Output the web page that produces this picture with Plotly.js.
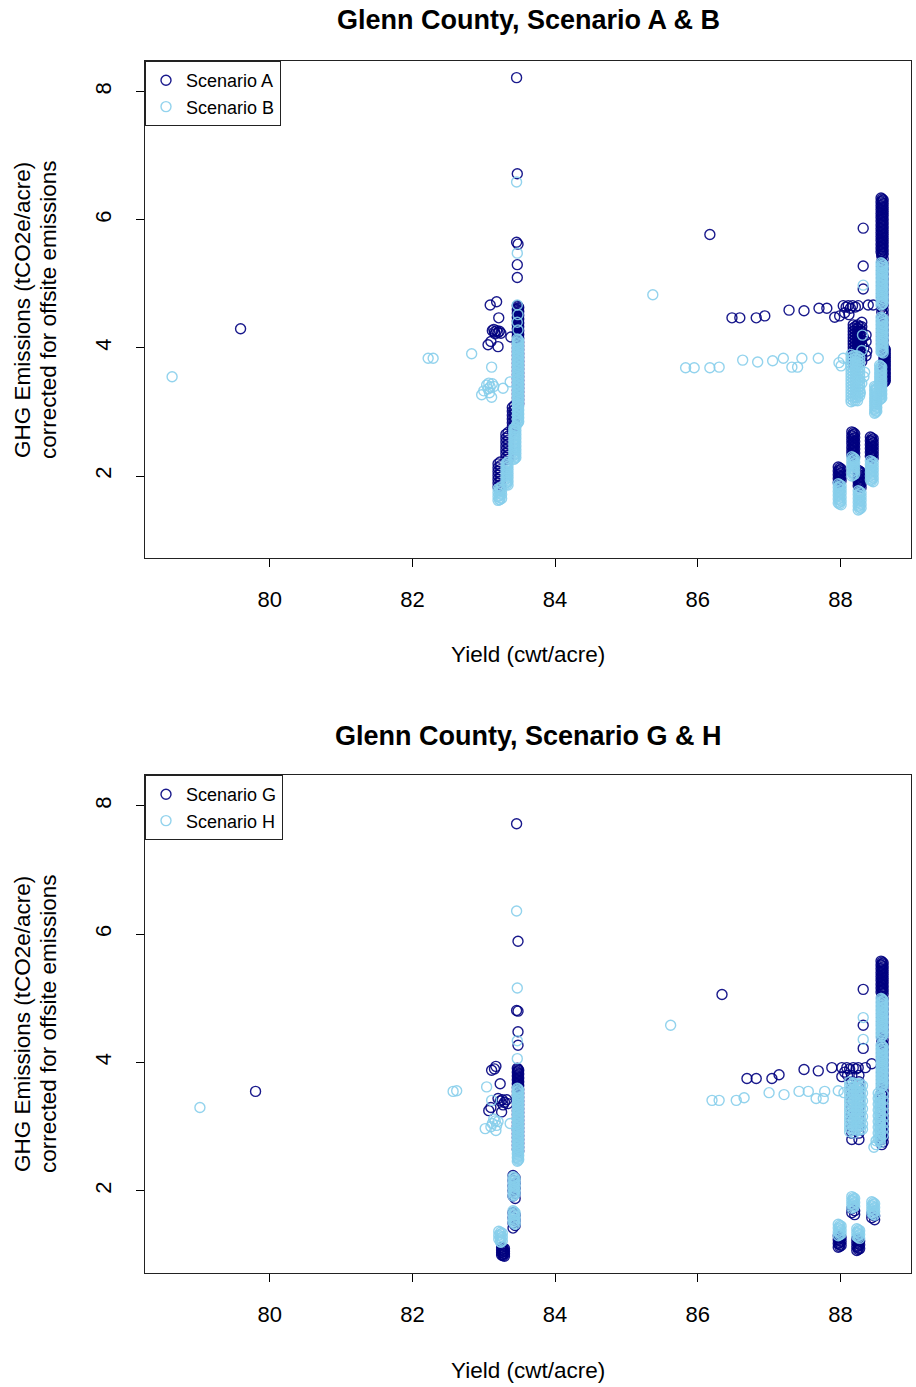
<!DOCTYPE html>
<html>
<head>
<meta charset="utf-8">
<script src="https://cdn.plot.ly/plotly-3.0.1.min.js"></script>
<style>html,body{margin:0;padding:0;background:#fff}#chart{width:916px;height:1387px}</style>
</head>
<body>
<div id="chart"></div>
<script>
// ---------- DATA ----------
const xTicks = [80, 82, 84, 86, 88];
const yTicks = [2, 4, 6, 8];
const titleTop = "Glenn County, Scenario A & B";
const titleBottom = "Glenn County, Scenario G & H";
const xLabel = "Yield (cwt/acre)";
const yLabel1 = "GHG Emissions (tCO2e/acre)";
const yLabel2 = "corrected for offsite emissions";

// Scenario A : [yield, emissions]
const scenarioA = [
 [79.59,4.30],[86.17,5.77],
 [83.46,8.22],[83.47,6.72],[83.46,5.65],[83.48,5.62],[83.47,5.30],[83.47,5.10],
 [83.09,4.67],[83.18,4.72],[83.21,4.47],[83.12,4.27],[83.15,4.25],[83.18,4.27],[83.20,4.24],[83.22,4.26],[83.16,4.22],[83.24,4.23],[83.14,4.29],[83.06,4.05],[83.20,4.02],[83.38,4.17],[83.10,4.10],
 [83.47,4.66],[83.49,4.63],[83.47,4.60],[83.49,4.57],[83.47,4.54],[83.49,4.51],[83.47,4.48],[83.49,4.45],[83.47,4.42],[83.49,4.39],[83.47,4.36],[83.49,4.33],[83.47,4.30],[83.49,4.27],[83.47,4.24],[83.49,4.21],[83.47,4.18],[83.49,4.15],[83.47,4.12],[83.49,4.09],[83.47,4.06],[83.49,4.03],[83.47,4.00],[83.49,3.97],[83.47,3.94],[83.49,3.91],[83.47,3.88],[83.49,3.85],[83.47,3.82],[83.49,3.79],[83.47,3.76],[83.49,3.73],[83.47,3.70],[83.49,3.67],[83.47,3.64],[83.49,3.61],[83.47,3.58],[83.49,3.55],[83.47,3.52],[83.49,3.49],[83.47,3.46],[83.49,3.43],[83.47,3.40],[83.49,3.37],[83.47,3.34],[83.49,3.31],[83.47,3.28],[83.49,3.25],[83.47,3.22],[83.49,3.19],[83.47,3.16],[83.49,3.13],
 [83.43,3.10],[83.40,3.07],[83.43,3.04],[83.40,3.01],[83.43,2.98],[83.40,2.95],[83.43,2.92],[83.40,2.89],[83.43,2.86],[83.40,2.83],[83.43,2.80],[83.40,2.77],[83.43,2.74],[83.40,2.71],
 [83.34,2.68],[83.31,2.65],[83.34,2.62],[83.31,2.59],[83.34,2.56],[83.31,2.53],[83.34,2.50],[83.31,2.47],[83.34,2.44],[83.31,2.41],[83.34,2.38],[83.31,2.35],[83.34,2.32],[83.31,2.29],[83.34,2.26],
 [83.23,2.22],[83.20,2.19],[83.23,2.16],[83.20,2.13],[83.23,2.10],[83.20,2.07],[83.23,2.04],[83.20,2.01],[83.23,1.98],[83.20,1.95],[83.23,1.92],[83.20,1.89],[83.23,1.86],[83.20,1.83],
 [86.48,4.47],[86.59,4.47],[86.82,4.47],[86.94,4.50],[87.28,4.59],[87.49,4.58],[87.70,4.62],[87.81,4.62],[87.92,4.48],[87.99,4.50],[88.04,4.66],[88.08,4.64],[88.11,4.66],[88.14,4.62],[88.17,4.66],[88.21,4.64],[88.25,4.66],[88.39,4.67],[88.46,4.67],[88.06,4.55],[88.12,4.52],
 [88.32,5.87],[88.32,5.28],[88.32,4.92],[88.32,4.17],[88.33,4.00],[88.30,4.40],
 [88.57,6.34],[88.60,6.31],[88.57,6.28],[88.60,6.25],[88.57,6.22],[88.60,6.19],[88.57,6.16],[88.60,6.13],[88.57,6.10],[88.60,6.07],[88.57,6.04],[88.60,6.01],[88.57,5.98],[88.60,5.95],[88.57,5.92],[88.60,5.89],[88.57,5.86],[88.60,5.83],[88.57,5.80],[88.60,5.77],[88.57,5.74],[88.60,5.71],[88.57,5.68],[88.60,5.65],[88.57,5.62],[88.60,5.59],[88.57,5.56],[88.60,5.53],[88.57,5.50],[88.60,5.47],
 [88.58,5.43],[88.60,5.39],[88.58,5.35],[88.60,5.31],[88.58,5.27],[88.60,5.23],[88.58,5.19],[88.60,5.15],[88.58,5.11],[88.60,5.07],[88.58,5.03],[88.60,4.99],[88.58,4.95],[88.60,4.91],[88.58,4.87],[88.60,4.83],[88.58,4.79],[88.60,4.75],[88.58,4.71],[88.60,4.67],[88.58,4.63],[88.60,4.59],[88.58,4.56],[88.60,4.52],[88.58,4.48],[88.60,4.44],[88.58,4.40],[88.60,4.36],[88.58,4.32],[88.60,4.28],[88.58,4.24],[88.60,4.20],[88.58,4.16],[88.60,4.12],[88.58,4.08],[88.60,4.04],
 [88.61,4.00],[88.63,3.97],[88.61,3.94],[88.63,3.91],[88.61,3.88],[88.63,3.85],[88.61,3.82],[88.63,3.79],[88.61,3.76],[88.63,3.73],[88.61,3.70],[88.63,3.67],[88.61,3.64],[88.63,3.61],[88.61,3.58],[88.63,3.55],[88.61,3.52],[88.63,3.49],[88.61,3.46],
 [88.18,4.36],[88.18,4.31],[88.18,4.26],[88.18,4.21],[88.18,4.16],[88.18,4.11],[88.18,4.06],[88.18,4.01],[88.18,3.96],[88.18,3.91],[88.18,3.86],[88.18,3.81],[88.18,3.76],
 [88.24,4.36],[88.24,4.31],[88.24,4.26],[88.24,4.21],[88.24,4.16],[88.24,4.11],[88.24,4.06],[88.24,4.01],[88.24,3.96],[88.24,3.91],[88.24,3.86],[88.24,3.81],[88.24,3.76],
 [88.30,4.33],[88.30,4.26],[88.30,4.13],[88.30,4.06],[88.30,3.93],[88.30,3.86],[88.30,3.79],
 [88.36,4.20],[88.36,4.10],[88.37,3.95],[88.36,3.88],
 [88.16,2.69],[88.20,2.66],[88.16,2.63],[88.20,2.60],[88.16,2.57],[88.20,2.54],[88.16,2.51],[88.20,2.48],[88.16,2.45],[88.20,2.42],[88.16,2.39],[88.20,2.36],[88.16,2.33],[88.20,2.30],
 [88.42,2.61],[88.46,2.58],[88.42,2.55],[88.46,2.52],[88.42,2.49],[88.46,2.46],[88.42,2.43],[88.46,2.40],[88.42,2.37],[88.46,2.34],[88.42,2.31],[88.46,2.28],
 [87.97,2.14],[88.01,2.11],[87.97,2.08],[88.01,2.05],[87.97,2.02],[88.01,1.99],[87.97,1.96],[88.01,1.93],[87.97,1.90],
 [88.25,2.09],[88.29,2.06],[88.25,2.03],[88.29,2.00],[88.25,1.97],[88.29,1.94],[88.25,1.91],[88.29,1.88],[88.25,1.85],[88.29,1.82]
];
// Scenario A, extra points inside the densest clusters: [yield, [emissions...]]
const scenarioADense = [
 [83.48,[4.645,4.615,4.585,4.555,4.525,4.495,4.465,4.435,4.405,4.375,4.345,4.315,4.285,4.255,4.225,4.195,4.165,4.135]],
 [88.585,[6.325,6.295,6.265,6.235,6.205,6.175,6.145,6.115,6.085,6.055,6.025,5.995,5.965,5.935,5.905,5.875,5.845,5.815,5.785,5.755,5.725,5.695,5.665,5.635,5.605,5.575,5.545,5.515,5.485,5.455]],
 [88.62,[3.985,3.955,3.925,3.895,3.865,3.835,3.805,3.775,3.745,3.715,3.685,3.655,3.625,3.595,3.565,3.535,3.505,3.475]],
 [88.21,[4.335,4.285,4.235,4.185,4.135,4.085,4.035,3.985,3.935,3.885,3.835,3.785]],
 [88.27,[4.335,4.285,4.235,4.185,4.135,4.085,4.035,3.985,3.935,3.885,3.835,3.785]],
 [88.18,[2.675,2.645,2.615,2.585,2.555,2.525,2.495,2.465,2.435,2.405,2.375,2.345,2.315]],
 [88.44,[2.595,2.565,2.535,2.505,2.475,2.445,2.415,2.385,2.355,2.325,2.295]],
 [87.99,[2.125,2.095,2.065,2.035,2.005,1.975,1.945,1.915]],
 [88.27,[2.075,2.045,2.015,1.985,1.955,1.925,1.895,1.865,1.835]]
];

// Scenario B
const scenarioB = [
 [78.63,3.55],[82.22,3.84],[82.29,3.84],[82.83,3.91],[83.11,3.70],[85.37,4.83],
 [83.46,6.59],[83.47,5.48],[83.47,4.67],[83.48,4.52],[83.47,4.40],[83.48,4.28],
 [83.09,3.39],[82.97,3.27],[83.11,3.23],[83.27,3.37],[83.37,3.47],[83.04,3.42],[83.06,3.36],[83.12,3.44],[83.08,3.30],[83.00,3.33],[83.14,3.40],[83.07,3.45],
 [83.47,4.14],[83.49,4.11],[83.47,4.08],[83.49,4.05],[83.47,4.02],[83.49,3.99],[83.47,3.96],[83.49,3.93],[83.47,3.90],[83.49,3.87],[83.47,3.84],[83.49,3.81],[83.47,3.78],[83.49,3.75],[83.47,3.72],[83.49,3.69],[83.47,3.66],[83.49,3.63],[83.47,3.60],[83.49,3.57],[83.47,3.54],[83.49,3.51],[83.47,3.48],[83.49,3.45],[83.47,3.42],[83.49,3.39],[83.47,3.36],[83.49,3.33],[83.47,3.30],[83.49,3.27],[83.47,3.24],[83.49,3.21],[83.47,3.18],[83.49,3.15],[83.47,3.12],[83.49,3.09],[83.47,3.06],[83.49,3.03],[83.47,3.00],[83.49,2.97],[83.47,2.94],[83.49,2.91],[83.47,2.88],[83.49,2.85],[83.47,2.82],
 [83.45,2.77],[83.42,2.74],[83.45,2.71],[83.42,2.68],[83.45,2.65],[83.42,2.62],[83.45,2.59],[83.42,2.56],[83.45,2.53],[83.42,2.50],[83.45,2.47],[83.42,2.44],[83.45,2.41],[83.42,2.38],[83.45,2.35],[83.42,2.32],[83.45,2.29],[83.42,2.26],
 [83.34,2.22],[83.31,2.19],[83.34,2.16],[83.31,2.13],[83.34,2.10],[83.31,2.07],[83.34,2.04],[83.31,2.01],[83.34,1.98],[83.31,1.95],[83.34,1.92],[83.31,1.89],[83.34,1.86],
 [83.25,1.83],[83.20,1.80],[83.25,1.77],[83.20,1.74],[83.25,1.71],[83.20,1.68],[83.25,1.65],[83.20,1.62],[83.22,1.63],
 [85.83,3.69],[85.95,3.69],[86.17,3.69],[86.30,3.70],[86.63,3.81],[86.84,3.78],[87.05,3.80],[87.20,3.84],[87.32,3.70],[87.40,3.70],[87.46,3.84],[87.69,3.84],[87.98,3.77],[88.04,3.84],[88.01,3.72],
 [88.32,4.98],[88.31,4.20],[88.30,3.96],
 [88.57,5.33],[88.60,5.30],[88.57,5.27],[88.60,5.24],[88.57,5.21],[88.60,5.18],[88.57,5.15],[88.60,5.12],[88.57,5.09],[88.60,5.06],[88.57,5.03],[88.60,5.00],[88.57,4.97],[88.60,4.94],[88.57,4.91],[88.60,4.88],[88.57,4.85],[88.60,4.82],[88.57,4.79],[88.60,4.76],[88.57,4.73],[88.60,4.70],[88.57,4.67],
 [88.57,4.48],[88.60,4.45],[88.57,4.42],[88.60,4.39],[88.57,4.36],[88.60,4.33],[88.57,4.30],[88.60,4.27],[88.57,4.24],[88.60,4.21],[88.57,4.18],[88.60,4.15],[88.57,4.12],[88.60,4.09],[88.57,4.06],[88.60,4.03],[88.57,4.00],[88.60,3.97],[88.57,3.94],[88.60,3.92],
 [88.55,3.73],[88.58,3.70],[88.55,3.67],[88.58,3.64],[88.55,3.61],[88.58,3.58],[88.55,3.55],[88.58,3.52],[88.55,3.49],[88.58,3.46],[88.55,3.43],[88.58,3.40],[88.55,3.37],[88.58,3.34],[88.55,3.31],[88.58,3.28],[88.55,3.25],[88.58,3.22],[88.55,3.19],
 [88.48,3.40],[88.51,3.37],[88.48,3.34],[88.51,3.31],[88.48,3.28],[88.51,3.25],[88.48,3.22],[88.51,3.19],[88.48,3.16],[88.51,3.13],[88.48,3.10],[88.51,3.07],[88.48,3.04],[88.51,3.01],[88.48,2.98],
 [88.15,3.90],[88.15,3.85],[88.15,3.80],[88.15,3.75],[88.15,3.70],[88.15,3.65],[88.15,3.60],[88.15,3.55],[88.15,3.50],[88.15,3.45],[88.15,3.40],[88.15,3.35],[88.15,3.30],[88.15,3.25],[88.15,3.20],[88.15,3.16],
 [88.21,3.88],[88.21,3.83],[88.21,3.78],[88.21,3.73],[88.21,3.68],[88.21,3.63],[88.21,3.58],[88.21,3.53],[88.21,3.48],[88.21,3.43],[88.21,3.38],[88.21,3.33],[88.21,3.28],[88.21,3.23],[88.21,3.18],
 [88.27,3.85],[88.27,3.80],[88.27,3.75],[88.27,3.70],[88.27,3.65],[88.27,3.60],[88.27,3.55],[88.27,3.50],[88.27,3.45],[88.27,3.40],[88.27,3.35],[88.27,3.30],[88.27,3.25],
 [88.30,3.45],[88.34,3.62],[88.28,3.30],[88.33,3.55],
 [88.16,2.30],[88.20,2.27],[88.16,2.24],[88.20,2.21],[88.16,2.18],[88.20,2.15],[88.16,2.12],[88.20,2.09],[88.16,2.06],[88.20,2.03],[88.16,2.00],
 [88.42,2.24],[88.46,2.21],[88.42,2.18],[88.46,2.15],[88.42,2.12],[88.46,2.09],[88.42,2.06],[88.46,2.03],[88.42,2.00],[88.46,1.97],[88.42,1.94],[88.46,1.91],
 [87.97,1.88],[88.01,1.85],[87.97,1.82],[88.01,1.79],[87.97,1.76],[88.01,1.73],[87.97,1.70],[88.01,1.67],[87.97,1.64],[88.01,1.61],[87.97,1.58],[88.01,1.55],
 [88.25,1.77],[88.29,1.74],[88.25,1.71],[88.29,1.68],[88.25,1.65],[88.29,1.62],[88.25,1.59],[88.29,1.56],[88.25,1.53],[88.29,1.50],[88.25,1.47]
];
const scenarioBDense = [
 [83.48,[4.125,4.095,4.065,4.035,4.005,3.975,3.945,3.915,3.885,3.855,3.825,3.795,3.765,3.735,3.705,3.675,3.645,3.615,3.585,3.555,3.525,3.495,3.465,3.435,3.405,3.375,3.345,3.315,3.285,3.255,3.225,3.195,3.165,3.135,3.105,3.075,3.045,3.015,2.985,2.955,2.925,2.895,2.865,2.835]],
 [83.435,[2.755,2.725,2.695,2.665,2.635,2.605,2.575,2.545,2.515,2.485,2.455,2.425,2.395,2.365,2.335,2.305,2.275]],
 [83.325,[2.205,2.175,2.145,2.115,2.085,2.055,2.025,1.995,1.965,1.935,1.905,1.875]],
 [83.225,[1.815,1.785,1.755,1.725,1.695,1.665,1.635]],
 [88.585,[5.315,5.285,5.255,5.225,5.195,5.165,5.135,5.105,5.075,5.045,5.015,4.985,4.955,4.925,4.895,4.865,4.835,4.805,4.775,4.745,4.715,4.685]],
 [88.585,[4.465,4.435,4.405,4.375,4.345,4.315,4.285,4.255,4.225,4.195,4.165,4.135,4.105,4.075,4.045,4.015,3.985,3.955,3.935]],
 [88.565,[3.715,3.685,3.655,3.625,3.595,3.565,3.535,3.505,3.475,3.445,3.415,3.385,3.355,3.325,3.295,3.265,3.235,3.205]],
 [88.495,[3.385,3.355,3.325,3.295,3.265,3.235,3.205,3.175,3.145,3.115,3.085,3.055,3.025,2.995]],
 [88.18,[3.875,3.825,3.775,3.725,3.675,3.625,3.575,3.525,3.475,3.425,3.375,3.325,3.275,3.225,3.175]],
 [88.24,[3.875,3.825,3.775,3.725,3.675,3.625,3.575,3.525,3.475,3.425,3.375,3.325,3.275,3.225,3.175]],
 [88.18,[2.285,2.255,2.225,2.195,2.165,2.135,2.105,2.075,2.045,2.015]],
 [88.44,[2.225,2.195,2.165,2.135,2.105,2.075,2.045,2.015,1.985,1.955,1.925]],
 [87.99,[1.865,1.835,1.805,1.775,1.745,1.715,1.685,1.655,1.625,1.595,1.565]],
 [88.27,[1.755,1.725,1.695,1.665,1.635,1.605,1.575,1.545,1.515,1.485]]
];

// Scenario G
const scenarioG = [
 [79.80,3.55],[86.34,5.06],
 [83.46,7.72],[83.48,5.89],[83.46,4.81],[83.48,4.80],[83.48,4.48],[83.48,4.27],
 [83.11,3.88],[83.17,3.94],[83.15,3.90],[83.23,3.67],[83.20,3.44],[83.23,3.40],[83.26,3.42],[83.29,3.38],[83.32,3.42],[83.34,3.36],[83.27,3.34],[83.07,3.25],[83.25,3.23],[83.10,3.30],
 [83.47,3.91],[83.49,3.88],[83.47,3.85],[83.49,3.82],[83.47,3.79],[83.49,3.76],[83.47,3.73],[83.49,3.70],[83.47,3.67],[83.49,3.64],[83.47,3.61],[83.49,3.58],[83.47,3.55],[83.49,3.52],[83.47,3.49],[83.49,3.46],[83.47,3.43],[83.49,3.40],[83.47,3.37],[83.49,3.34],[83.47,3.31],[83.49,3.28],[83.47,3.25],[83.49,3.22],[83.47,3.19],[83.49,3.16],[83.47,3.13],[83.49,3.10],[83.47,3.07],[83.49,3.04],[83.47,3.01],[83.49,2.98],[83.47,2.95],[83.49,2.92],[83.47,2.89],[83.49,2.86],[83.47,2.83],[83.49,2.80],[83.47,2.77],[83.49,2.74],[83.47,2.71],[83.49,2.68],[83.47,2.65],[83.49,2.62],
 [83.41,2.24],[83.44,2.20],[83.41,2.16],[83.44,2.12],[83.41,2.08],[83.44,2.04],[83.41,2.00],[83.44,1.96],[83.41,1.92],[83.44,1.88],
 [83.41,1.66],[83.44,1.62],[83.41,1.58],[83.44,1.54],[83.41,1.50],[83.44,1.46],[83.41,1.42],
 [83.25,1.12],[83.29,1.10],[83.25,1.08],[83.29,1.06],[83.25,1.04],[83.29,1.02],[83.25,1.00],[83.29,0.98],
 [86.69,3.75],[86.82,3.75],[87.04,3.75],[87.14,3.81],[87.49,3.89],[87.69,3.87],[87.88,3.92],[88.02,3.92],[88.02,3.78],[88.09,3.92],[88.13,3.90],[88.18,3.92],[88.22,3.90],[88.25,3.92],[88.35,3.92],[88.44,3.98],[88.06,3.85],[88.10,3.80],
 [88.32,5.14],[88.32,4.58],[88.32,4.22],
 [88.57,5.58],[88.60,5.55],[88.57,5.52],[88.60,5.49],[88.57,5.46],[88.60,5.43],[88.57,5.40],[88.60,5.37],[88.57,5.34],[88.60,5.31],[88.57,5.28],[88.60,5.25],[88.57,5.22],[88.60,5.19],[88.57,5.16],[88.60,5.13],[88.57,5.10],[88.60,5.07],
 [88.58,5.03],[88.60,4.99],[88.58,4.95],[88.60,4.91],[88.58,4.87],[88.60,4.83],[88.58,4.79],[88.60,4.75],[88.58,4.71],[88.60,4.67],[88.58,4.63],[88.60,4.59],[88.58,4.55],[88.60,4.51],[88.58,4.47],[88.60,4.43],[88.58,4.39],[88.60,4.35],[88.58,4.32],[88.60,4.28],[88.58,4.24],[88.60,4.20],[88.58,4.16],[88.60,4.12],[88.58,4.08],[88.60,4.04],[88.58,4.00],[88.60,3.96],[88.58,3.92],[88.60,3.88],[88.58,3.84],[88.60,3.80],[88.58,3.76],[88.60,3.72],[88.58,3.68],[88.60,3.64],[88.58,3.60],[88.60,3.56],[88.58,3.52],[88.60,3.48],[88.58,3.44],[88.60,3.40],[88.58,3.36],[88.60,3.32],[88.58,3.28],[88.60,3.24],[88.58,3.20],[88.60,3.16],[88.58,3.12],[88.60,3.08],[88.58,3.04],[88.60,3.00],[88.58,2.96],[88.60,2.92],[88.58,2.88],[88.60,2.84],[88.58,2.80],[88.60,2.76],[88.58,2.72],
 [88.16,3.80],[88.16,3.70],[88.16,3.60],[88.16,3.50],[88.16,3.40],[88.16,3.30],[88.16,3.20],[88.16,3.10],[88.16,3.00],[88.16,2.90],[88.16,2.80],
 [88.26,3.80],[88.26,3.70],[88.26,3.60],[88.26,3.50],[88.26,3.40],[88.26,3.30],[88.26,3.20],[88.26,3.10],[88.26,3.00],[88.26,2.90],[88.26,2.80],
 [88.16,1.72],[88.20,1.69],[88.16,1.66],[88.20,1.63],
 [88.44,1.64],[88.48,1.61],[88.44,1.58],[88.48,1.55],
 [87.97,1.30],[88.01,1.27],[87.97,1.24],[88.01,1.21],[87.97,1.18],[88.01,1.15],[87.97,1.12],
 [88.23,1.25],[88.27,1.22],[88.23,1.19],[88.27,1.16],[88.23,1.13],[88.27,1.10],[88.23,1.07]
];
const scenarioGDense = [
 [83.48,[3.895,3.865,3.835,3.805,3.775,3.745,3.715,3.685,3.655,3.625]],
 [83.27,[1.11,1.09,1.07,1.05,1.03,1.01,0.99]],
 [88.585,[5.565,5.535,5.505,5.475,5.445,5.415,5.385,5.355,5.325,5.295,5.265,5.235,5.205,5.175,5.145,5.115,5.085]],
 [87.99,[1.285,1.255,1.225,1.195,1.165,1.135]],
 [88.25,[1.235,1.205,1.175,1.145,1.115,1.085]]
];

// Scenario H
const scenarioH = [
 [79.02,3.30],[82.57,3.55],[82.62,3.56],[85.62,4.58],
 [83.46,6.36],[83.47,5.16],[83.47,4.34],[83.47,4.06],
 [83.04,3.62],[83.11,3.41],[83.16,3.09],[83.02,2.97],[83.17,2.94],[83.37,3.05],[83.12,3.05],[83.14,3.12],[83.18,3.02],[83.10,3.00],[83.20,3.08],
 [83.47,3.60],[83.49,3.57],[83.47,3.54],[83.49,3.51],[83.47,3.48],[83.49,3.45],[83.47,3.42],[83.49,3.39],[83.47,3.36],[83.49,3.33],[83.47,3.30],[83.49,3.27],[83.47,3.24],[83.49,3.21],[83.47,3.18],[83.49,3.15],[83.47,3.12],[83.49,3.09],[83.47,3.06],[83.49,3.03],[83.47,3.00],[83.49,2.97],[83.47,2.94],[83.49,2.91],[83.47,2.88],[83.49,2.85],[83.47,2.82],[83.49,2.79],[83.47,2.76],[83.49,2.73],[83.47,2.70],[83.49,2.67],[83.47,2.64],[83.49,2.61],[83.47,2.58],[83.49,2.55],[83.47,2.52],[83.49,2.49],[83.47,2.46],
 [83.41,2.22],[83.44,2.19],[83.41,2.16],[83.44,2.13],[83.41,2.10],[83.44,2.07],[83.41,2.04],[83.44,2.01],[83.41,1.98],[83.44,1.95],[83.41,1.92],
 [83.41,1.69],[83.44,1.66],[83.41,1.63],[83.44,1.60],[83.41,1.57],[83.44,1.54],[83.41,1.51],[83.44,1.48],
 [83.21,1.37],[83.26,1.34],[83.21,1.31],[83.26,1.28],[83.21,1.25],[83.26,1.22],[83.24,1.20],
 [86.20,3.41],[86.30,3.41],[86.54,3.41],[86.65,3.45],[87.00,3.53],[87.21,3.50],[87.42,3.55],[87.55,3.55],[87.66,3.44],[87.76,3.44],[87.78,3.55],[87.97,3.56],[88.05,3.53],
 [88.32,4.70],[88.32,4.36],
 [88.57,5.00],[88.60,4.97],[88.57,4.94],[88.60,4.91],[88.57,4.88],[88.60,4.85],[88.57,4.82],[88.60,4.79],[88.57,4.76],[88.60,4.73],[88.57,4.70],[88.60,4.67],[88.57,4.64],[88.60,4.61],[88.57,4.58],[88.60,4.55],[88.57,4.52],[88.60,4.49],[88.57,4.46],[88.60,4.43],[88.57,4.40],
 [88.57,4.27],[88.60,4.24],[88.57,4.21],[88.60,4.18],[88.57,4.15],[88.60,4.12],[88.57,4.09],[88.60,4.06],[88.57,4.03],[88.60,4.00],[88.57,3.97],[88.60,3.94],[88.57,3.91],[88.60,3.88],[88.57,3.85],[88.60,3.82],[88.57,3.79],[88.60,3.76],[88.57,3.73],[88.60,3.70],[88.57,3.67],[88.60,3.64],[88.57,3.61],
 [88.53,3.52],[88.60,3.50],[88.56,3.47],[88.53,3.44],[88.60,3.41],[88.56,3.38],[88.53,3.35],[88.60,3.32],[88.56,3.29],[88.53,3.26],[88.60,3.23],[88.56,3.20],[88.53,3.17],[88.60,3.14],[88.56,3.11],[88.53,3.08],[88.60,3.05],[88.56,3.02],[88.53,2.99],[88.60,2.96],[88.56,2.93],[88.53,2.90],[88.60,2.87],[88.56,2.84],[88.53,2.81],[88.50,2.78],[88.56,2.75],[88.50,2.72],[88.47,2.68],
 [88.13,3.70],[88.13,3.64],[88.13,3.58],[88.13,3.52],[88.13,3.46],[88.13,3.40],[88.13,3.34],[88.13,3.28],[88.13,3.22],[88.13,3.16],[88.13,3.10],[88.13,3.04],[88.13,2.98],[88.13,2.92],
 [88.19,3.68],[88.19,3.62],[88.19,3.56],[88.19,3.50],[88.19,3.44],[88.19,3.38],[88.19,3.32],[88.19,3.26],[88.19,3.20],[88.19,3.14],[88.19,3.08],[88.19,3.02],[88.19,2.96],[88.19,2.90],
 [88.25,3.66],[88.25,3.60],[88.25,3.54],[88.25,3.48],[88.25,3.42],[88.25,3.36],[88.25,3.30],[88.25,3.24],[88.25,3.18],[88.25,3.12],[88.25,3.06],[88.25,3.00],[88.25,2.94],
 [88.31,3.64],[88.31,3.52],[88.31,3.40],[88.31,3.28],[88.31,3.16],[88.31,3.04],[88.31,2.96],
 [88.16,1.91],[88.20,1.88],[88.16,1.85],[88.20,1.82],[88.16,1.79],[88.20,1.76],[88.16,1.73],
 [88.44,1.83],[88.48,1.80],[88.44,1.77],[88.48,1.74],[88.44,1.71],[88.48,1.68],[88.44,1.65],[88.48,1.62],
 [87.97,1.48],[88.01,1.45],[87.97,1.42],[88.01,1.39],[87.97,1.36],[88.01,1.33],[87.97,1.30],
 [88.23,1.41],[88.27,1.38],[88.23,1.35],[88.27,1.32],[88.23,1.29],[88.27,1.26]
];
const scenarioHDense = [
 [83.48,[3.585,3.555,3.525,3.495,3.465,3.435,3.405,3.375,3.345,3.315,3.285,3.255,3.225,3.195,3.165,3.135,3.105,3.075,3.045,3.015,2.985,2.955,2.925,2.895,2.865,2.835,2.805,2.775,2.745,2.715,2.685,2.655,2.625,2.595,2.565,2.535,2.505,2.475]],
 [83.425,[2.205,2.175,2.145,2.115,2.085,2.055,2.025,1.995,1.965,1.935]],
 [83.425,[1.675,1.645,1.615,1.585,1.555,1.525,1.495]],
 [83.235,[1.355,1.325,1.295,1.265,1.235,1.205]],
 [88.585,[4.985,4.955,4.925,4.895,4.865,4.835,4.805,4.775,4.745,4.715,4.685,4.655,4.625,4.595,4.565,4.535,4.505,4.475,4.445,4.415]],
 [88.585,[4.255,4.225,4.195,4.165,4.135,4.105,4.075,4.045,4.015,3.985,3.955,3.925,3.895,3.865,3.835,3.805,3.775,3.745,3.715,3.685,3.655,3.625]],
 [88.555,[3.505,3.475,3.445,3.415,3.385,3.355,3.325,3.295,3.265,3.235,3.205,3.175,3.145,3.115,3.085,3.055,3.025,2.995,2.965,2.935,2.905,2.875,2.845,2.815,2.785]],
 [88.16,[3.67,3.61,3.55,3.49,3.43,3.37,3.31,3.25,3.19,3.13,3.07,3.01,2.95]],
 [88.22,[3.67,3.61,3.55,3.49,3.43,3.37,3.31,3.25,3.19,3.13,3.07,3.01,2.95]],
 [88.28,[3.67,3.61,3.55,3.49,3.43,3.37,3.31,3.25,3.19,3.13,3.07,3.01,2.95]],
 [88.18,[1.895,1.865,1.835,1.805,1.775,1.745]],
 [88.46,[1.815,1.785,1.755,1.725,1.695,1.665,1.635]],
 [87.99,[1.465,1.435,1.405,1.375,1.345,1.315]],
 [88.25,[1.395,1.365,1.335,1.305,1.275]]
];

// ---------- STYLE / LAYOUT ----------
const W = 916, H = 1387;
const FONT = "Liberation Sans, Arial, Helvetica, sans-serif";
const NAVY = "#000080";
const SKY = "#87CEEB";

function allPoints(points, runs) {
  const out = points.slice();
  runs.forEach(r => r[1].forEach(v => out.push([r[0], v])));
  return out;
}

function trace(data, name, color, xa, ya, leg) {
  return {
    type: "scatter", mode: "markers", name: name,
    x: data.map(d => d[0]), y: data.map(d => d[1]),
    xaxis: xa, yaxis: ya, legend: leg,
    marker: { symbol: "circle-open", size: 10, color: color, opacity: 0.9, line: { width: 1.4, color: color } },
    hoverinfo: "skip"
  };
}

const traces = [
  trace(allPoints(scenarioA, scenarioADense), "Scenario A", NAVY, "x", "y", "legend"),
  trace(allPoints(scenarioB, scenarioBDense), "Scenario B", SKY, "x", "y", "legend"),
  trace(allPoints(scenarioG, scenarioGDense), "Scenario G", NAVY, "x2", "y2", "legend2"),
  trace(allPoints(scenarioH, scenarioHDense), "Scenario H", SKY, "x2", "y2", "legend2")
];

const px = v => v / W, py = v => 1 - v / H;

function xax(anchor) {
  return {
    domain: [px(145), px(911)], range: [78.25, 88.99], anchor: anchor,
    tickmode: "array", tickvals: xTicks, ticktext: xTicks.map(String),
    ticks: "outside", ticklen: 8, tickwidth: 1, tickcolor: "#000",
    showline: true, mirror: true, linecolor: "#222", linewidth: 1,
    showgrid: false, zeroline: false, ticklabelstandoff: 14,
    tickfont: { family: FONT, size: 22, color: "#000" }
  };
}
function yax(anchor, top, bottom) {
  return {
    domain: [py(bottom), py(top)], range: [0.72, 8.48], anchor: anchor,
    tickmode: "array", tickvals: yTicks, ticktext: yTicks.map(String),
    ticks: "outside", ticklen: 8, tickwidth: 1, tickcolor: "#000", tickangle: -90,
    showline: true, mirror: true, linecolor: "#222", linewidth: 1,
    showgrid: false, zeroline: false, ticklabelstandoff: 16,
    tickfont: { family: FONT, size: 22, color: "#000" }
  };
}

function ann(text, x, y, size, opts) {
  return Object.assign({
    text: text, xref: "paper", yref: "paper", x: px(x), y: py(y),
    xanchor: "center", yanchor: "middle", showarrow: false,
    font: { family: FONT, size: size, color: "#000" }
  }, opts || {});
}

const legendStyle = {
  xanchor: "left", yanchor: "top", bgcolor: "#fff", bordercolor: "#222", borderwidth: 1,
  font: { family: FONT, size: 18, color: "#000" }, itemwidth: 30, tracegroupgap: 0
};

const layout = {
  width: W, height: H, paper_bgcolor: "#fff", plot_bgcolor: "#fff",
  margin: { l: 0, r: 0, t: 0, b: 0 }, showlegend: true,
  xaxis: xax("y"), yaxis: yax("x", 61, 558),
  xaxis2: xax("y2"), yaxis2: yax("x2", 775, 1273),
  legend: Object.assign({ x: px(145), y: py(61) }, legendStyle),
  legend2: Object.assign({ x: px(145), y: py(775) }, legendStyle),
  annotations: [
    ann("<b>" + titleTop + "</b>", 528, 20, 27),
    ann("<b>" + titleBottom + "</b>", 528, 736, 27),
    ann(xLabel, 528, 654, 22.5),
    ann(xLabel, 528, 1370, 22.5),
    ann(yLabel1, 22, 310, 22.5, { textangle: -90 }),
    ann(yLabel2, 48, 310, 22.5, { textangle: -90 }),
    ann(yLabel1, 22, 1024, 22.5, { textangle: -90 }),
    ann(yLabel2, 48, 1024, 22.5, { textangle: -90 })
  ]
};

Plotly.newPlot("chart", traces, layout, { displayModeBar: false, staticPlot: true });
</script>
</body>
</html>
